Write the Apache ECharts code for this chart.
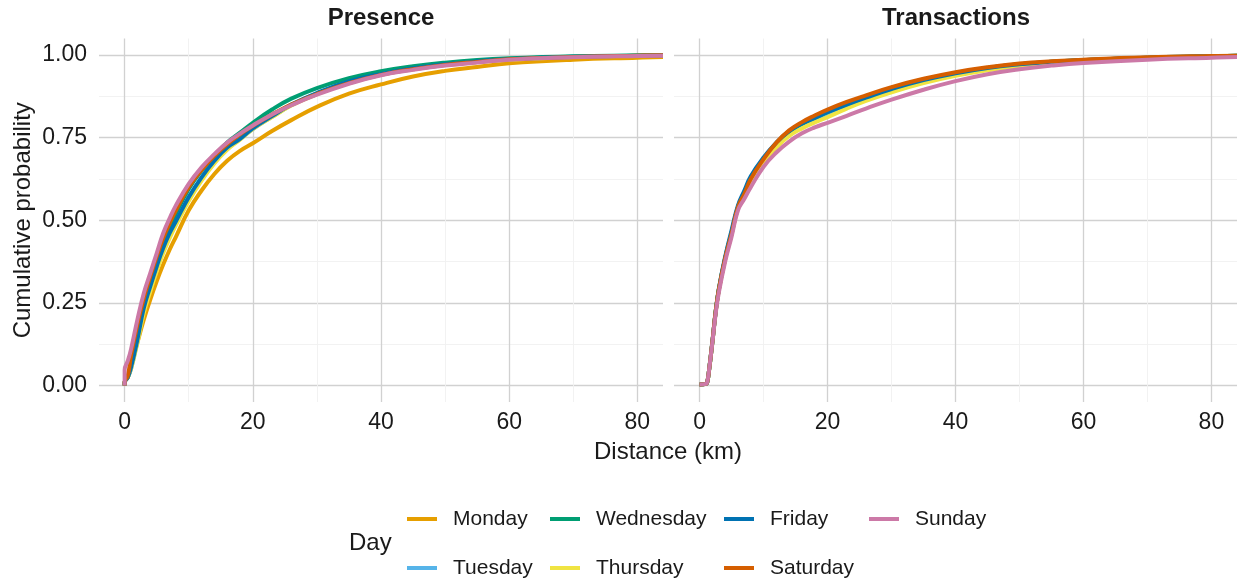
<!DOCTYPE html>
<html>
<head>
<meta charset="utf-8">
<script src="https://cdn.jsdelivr.net/npm/echarts@6/dist/echarts.min.js"></script>
<style>
    html, body { margin: 0; padding: 0; background: #fff; }
    #chart { width: 1238px; height: 582px; }
</style>
</head>
<body>
<div id="chart"></div>
<script>
// Days and their colours (Okabe-Ito)
const days = ['Monday', 'Tuesday', 'Wednesday', 'Thursday', 'Friday', 'Saturday', 'Sunday'];
const dayColors = ['#E69F00', '#56B4E9', '#009E73', '#F0E442', '#0072B2', '#D55E00', '#CC79A7'];

// Axis ticks
const xTicks = [0, 20, 40, 60, 80];
const xMinorTicks = [10, 30, 50, 70];
const yTicks = [0, 0.25, 0.5, 0.75, 1];
const yMinorTicks = [0.125, 0.375, 0.625, 0.875];

// Presence panel: distance (km) and cumulative probability per day
const presenceKm = [0, 0, 0.5, 1, 2, 3, 4, 5, 6, 7, 8, 10, 12, 14, 16, 18, 20, 23, 26, 30, 35, 40, 45, 50, 55, 60, 70, 80, 84];
const presenceMonday = [0, 0.01, 0.025, 0.06, 0.13, 0.20, 0.26, 0.315, 0.365, 0.41, 0.45, 0.53, 0.59, 0.64, 0.68, 0.71, 0.733, 0.77, 0.803, 0.843, 0.883, 0.911, 0.935, 0.952, 0.964, 0.975, 0.986, 0.992, 0.994];
const presenceTuesday = [0, 0.01, 0.025, 0.05, 0.135, 0.228, 0.293, 0.353, 0.408, 0.453, 0.49, 0.563, 0.624, 0.675, 0.716, 0.745, 0.776, 0.813, 0.848, 0.884, 0.919, 0.942, 0.959, 0.971, 0.98, 0.987, 0.994, 0.998, 0.999];
const presenceWednesday = [0, 0.01, 0.025, 0.06, 0.15, 0.235, 0.305, 0.37, 0.425, 0.475, 0.52, 0.595, 0.65, 0.695, 0.735, 0.765, 0.795, 0.835, 0.868, 0.9, 0.93, 0.951, 0.966, 0.977, 0.985, 0.99, 0.996, 0.999, 1.0];
const presenceThursday = [0, 0.01, 0.025, 0.05, 0.13, 0.22, 0.285, 0.345, 0.4, 0.445, 0.485, 0.558, 0.62, 0.672, 0.713, 0.744, 0.776, 0.812, 0.847, 0.882, 0.917, 0.941, 0.958, 0.97, 0.979, 0.986, 0.994, 0.998, 0.999];
const presenceFriday = [0, 0.01, 0.025, 0.055, 0.14, 0.235, 0.3, 0.36, 0.415, 0.46, 0.497, 0.57, 0.63, 0.68, 0.72, 0.746, 0.778, 0.815, 0.85, 0.885, 0.92, 0.943, 0.96, 0.972, 0.981, 0.988, 0.995, 0.998, 0.999];
const presenceSaturday = [0, 0.01, 0.03, 0.09, 0.185, 0.265, 0.33, 0.39, 0.445, 0.49, 0.53, 0.6, 0.652, 0.695, 0.73, 0.76, 0.786, 0.82, 0.85, 0.882, 0.915, 0.94, 0.957, 0.97, 0.979, 0.987, 0.994, 0.998, 0.999];
const presenceSunday = [0, 0.047, 0.075, 0.11, 0.20, 0.28, 0.34, 0.40, 0.46, 0.505, 0.545, 0.61, 0.66, 0.70, 0.735, 0.762, 0.787, 0.82, 0.848, 0.88, 0.913, 0.939, 0.955, 0.968, 0.977, 0.986, 0.993, 0.997, 0.998];

// Transactions panel
const transactionsKm = [0, 1, 1.2, 1.5, 2, 2.5, 3, 4, 5, 6, 7, 8, 10, 12, 14, 16, 18, 20, 23, 26, 30, 35, 40, 45, 50, 55, 60, 70, 80, 84];
const transactionsMonday = [0.003, 0.005, 0.01, 0.049, 0.131, 0.221, 0.289, 0.384, 0.46, 0.538, 0.58, 0.622, 0.682, 0.728, 0.763, 0.787, 0.805, 0.822, 0.846, 0.868, 0.893, 0.92, 0.942, 0.958, 0.97, 0.978, 0.984, 0.991, 0.996, 0.998];
const transactionsTuesday = [0.003, 0.005, 0.01, 0.048, 0.13, 0.22, 0.288, 0.383, 0.458, 0.537, 0.578, 0.62, 0.68, 0.725, 0.76, 0.784, 0.802, 0.818, 0.843, 0.865, 0.891, 0.918, 0.94, 0.956, 0.969, 0.977, 0.983, 0.991, 0.996, 0.997];
const transactionsWednesday = [0.003, 0.005, 0.01, 0.05, 0.132, 0.221, 0.29, 0.386, 0.463, 0.54, 0.583, 0.626, 0.686, 0.732, 0.768, 0.792, 0.81, 0.828, 0.852, 0.873, 0.898, 0.925, 0.945, 0.961, 0.972, 0.98, 0.985, 0.992, 0.996, 0.998];
const transactionsThursday = [0.003, 0.005, 0.01, 0.048, 0.13, 0.22, 0.288, 0.382, 0.457, 0.537, 0.577, 0.617, 0.676, 0.72, 0.755, 0.778, 0.796, 0.812, 0.838, 0.861, 0.887, 0.915, 0.937, 0.954, 0.967, 0.976, 0.982, 0.99, 0.995, 0.997];
const transactionsFriday = [0.003, 0.005, 0.01, 0.05, 0.133, 0.222, 0.292, 0.39, 0.47, 0.545, 0.59, 0.633, 0.69, 0.735, 0.77, 0.793, 0.81, 0.827, 0.85, 0.871, 0.897, 0.924, 0.945, 0.961, 0.972, 0.98, 0.985, 0.992, 0.996, 0.998];
const transactionsSaturday = [0.003, 0.005, 0.01, 0.05, 0.133, 0.222, 0.29, 0.385, 0.46, 0.54, 0.58, 0.625, 0.685, 0.735, 0.772, 0.797, 0.817, 0.835, 0.858, 0.878, 0.903, 0.928, 0.948, 0.963, 0.974, 0.981, 0.986, 0.993, 0.997, 0.998];
const transactionsSunday = [0.003, 0.005, 0.01, 0.05, 0.13, 0.215, 0.28, 0.375, 0.45, 0.53, 0.565, 0.6, 0.662, 0.705, 0.738, 0.763, 0.781, 0.795, 0.816, 0.838, 0.865, 0.895, 0.921, 0.942, 0.957, 0.968, 0.976, 0.986, 0.992, 0.994];

const presenceByDay = [presenceMonday, presenceTuesday, presenceWednesday, presenceThursday, presenceFriday, presenceSaturday, presenceSunday];
const transactionsByDay = [transactionsMonday, transactionsTuesday, transactionsWednesday, transactionsThursday, transactionsFriday, transactionsSaturday, transactionsSunday];

const font = '"Liberation Sans", Arial, sans-serif';
const textColor = '#1a1a1a';
const majorGrid = { color: '#d1d1d1', width: 1.3 };
const minorGrid = { color: '#f0f0f0', width: 0.9 };

// x range padded like ggplot (0..80 expanded by 5%)
const xMin = -4, xMax = 84;
const yMin = -0.05, yMax = 1.05;

const makeMajorX = (gridIndex) => ({
    type: 'value', gridIndex: gridIndex, min: xMin, max: xMax,
    axisLine: { show: false },
    axisTick: { show: false, customValues: xTicks },
    axisLabel: { customValues: xTicks, margin: 9, fontSize: 23, fontFamily: font, color: textColor },
    splitLine: { show: true, lineStyle: majorGrid }
});
const makeMinorX = (gridIndex) => ({
    type: 'value', gridIndex: gridIndex, min: xMin, max: xMax,
    axisLine: { show: false },
    axisTick: { show: false, customValues: xMinorTicks },
    axisLabel: { show: false, customValues: xMinorTicks },
    splitLine: { show: true, lineStyle: minorGrid }
});
const makeMajorY = (gridIndex, showLabels) => ({
    type: 'value', gridIndex: gridIndex, min: yMin, max: yMax,
    axisLine: { show: false },
    axisTick: { show: false, customValues: yTicks },
    axisLabel: {
        show: showLabels, customValues: yTicks, margin: 12,
        fontSize: 23, fontFamily: font, color: textColor,
        formatter: v => v.toFixed(2)
    },
    splitLine: { show: true, lineStyle: majorGrid },
    name: showLabels ? 'Cumulative probability' : '',
    nameLocation: 'middle',
    nameGap: 64,
    nameTextStyle: { fontSize: 24, fontFamily: font, color: textColor }
});
const makeMinorY = (gridIndex) => ({
    type: 'value', gridIndex: gridIndex, min: yMin, max: yMax,
    axisLine: { show: false },
    axisTick: { show: false, customValues: yMinorTicks },
    axisLabel: { show: false, customValues: yMinorTicks },
    splitLine: { show: true, lineStyle: minorGrid }
});

let series = [];
const addPanel = (km, byDay, axisIndex) => {
    for (let d = 0; d < days.length; d++) {
        series.push({
            name: days[d],
            type: 'line',
            xAxisIndex: axisIndex,
            yAxisIndex: axisIndex,
            data: km.map((k, i) => [k, byDay[d][i]]),
            showSymbol: false,
            symbol: 'none',
            smooth: 0.45,
            lineStyle: { color: dayColors[d], width: 4 },
            itemStyle: { color: dayColors[d] },
            emphasis: { disabled: true },
            z: 3 + d
        });
    }
};
addPanel(presenceKm, presenceByDay, 0);
addPanel(transactionsKm, transactionsByDay, 1);

// legend: two rows, keys placed like the ggplot guide
const legendSpots = [[407, 519], [407, 568], [550, 519], [550, 568], [724, 519], [724, 568], [869, 519]];
const legends = days.map((day, i) => ({
    data: [{ name: day, icon: 'rect' }],
    left: legendSpots[i][0],
    top: legendSpots[i][1] - 12,
    padding: 0,
    itemWidth: 30,
    itemHeight: 4,
    selectedMode: false,
    textStyle: { fontSize: 21, fontFamily: font, color: textColor, lineHeight: 24, padding: [0, 0, 0, 11] }
}));

const textEl = (text, x, y, size, weight, align) => ({
    type: 'text',
    x: x, y: y,
    style: {
        text: text,
        fill: textColor,
        font: `${weight} ${size}px ${font}`,
        align: align, verticalAlign: 'middle',
        textAlign: align, textVerticalAlign: 'middle'
    }
});

const option = {
    backgroundColor: '#ffffff',
    animation: false,
    grid: [
        { left: 99, right: 575, top: 38.5, bottom: 180 },
        { left: 674, right: 1, top: 38.5, bottom: 180 }
    ],
    xAxis: [makeMajorX(0), makeMajorX(1), makeMinorX(0), makeMinorX(1)],
    yAxis: [makeMajorY(0, true), makeMajorY(1, false), makeMinorY(0), makeMinorY(1)],
    legend: legends,
    graphic: [
        textEl('Presence', 381, 18, 24, 'bold', 'center'),
        textEl('Transactions', 956, 18, 24, 'bold', 'center'),
        textEl('Distance (km)', 668, 452, 24, 'normal', 'center'),
        textEl('Day', 349, 543, 24, 'normal', 'left')
    ],
    series: series
};

const myChart = echarts.init(document.getElementById('chart'), null, { renderer: 'canvas' });
myChart.setOption(option, true);
</script>
</body>
</html>
